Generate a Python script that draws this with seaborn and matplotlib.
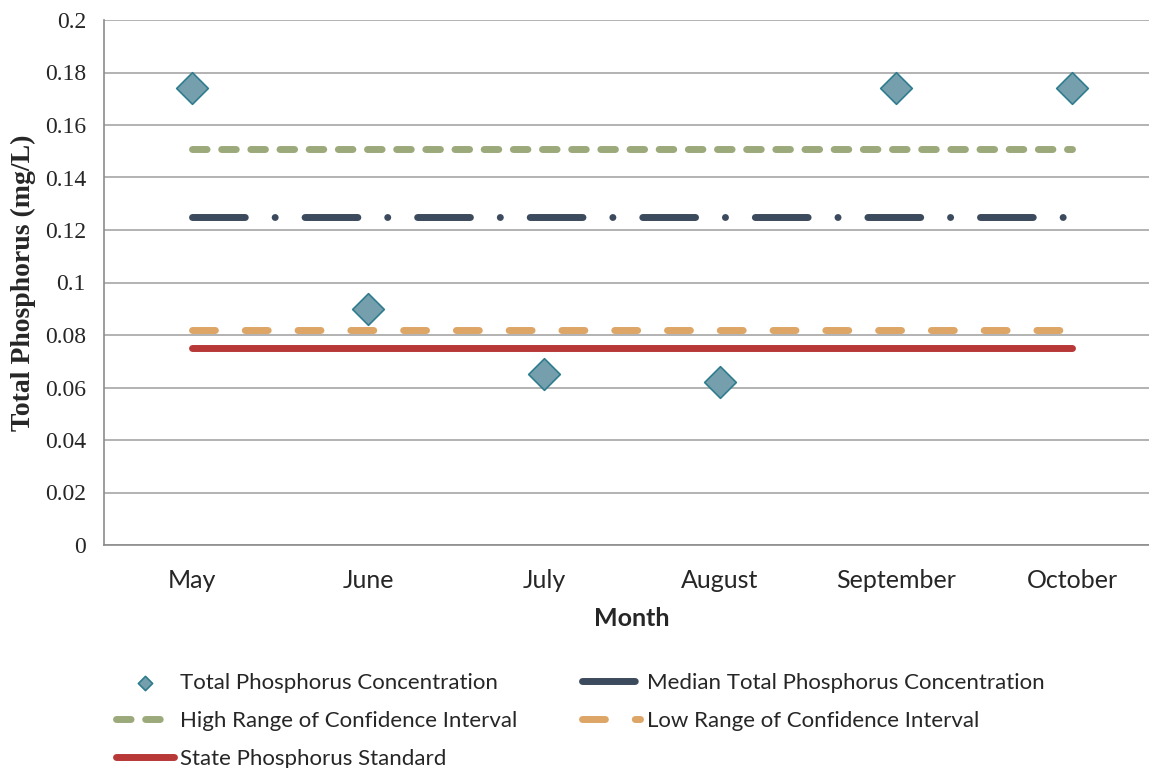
import pandas as pd
import matplotlib.pyplot as plt
import seaborn as sns
from matplotlib.ticker import FixedLocator

# Monthly data
months = ['May', 'June', 'July', 'August', 'September', 'October']
tp_conc = [0.174, 0.090, 0.065, 0.062, 0.174, 0.174]
median_tp = [0.125, 0.125, 0.125, 0.125, 0.125, 0.125]
high_ci = [0.151, 0.151, 0.151, 0.151, 0.151, 0.151]
low_ci = [0.082, 0.082, 0.082, 0.082, 0.082, 0.082]
state_std = [0.075, 0.075, 0.075, 0.075, 0.075, 0.075]
yticks = [0, 0.02, 0.04, 0.06, 0.08, 0.1, 0.12, 0.14, 0.16, 0.18, 0.2]
ytick_labels = ['0', '0.02', '0.04', '0.06', '0.08', '0.1', '0.12', '0.14',
                '0.16', '0.18', '0.2']

df = pd.DataFrame({'pos': range(len(months)), 'Month': months, 'tp': tp_conc,
                   'median': median_tp, 'high': high_ci, 'low': low_ci, 'std': state_std})

sns.set_style('white')
plt.rcParams['font.family'] = ['Lato', 'DejaVu Sans']

fig = plt.figure(figsize=(11.49, 7.68), dpi=100)
ax = fig.add_axes([104 / 1149, 223 / 768, 1056 / 1149, 525 / 768])

lw = 5
# State standard (solid red)
sns.lineplot(data=df, x='pos', y='std', color='#B83838', lw=lw, ax=ax,
             label='State Phosphorus Standard')
# Low CI (orange dashed)
sns.lineplot(data=df, x='pos', y='low', color='#DDA566', lw=lw, ax=ax,
             label='Low Range of Confidence Interval')
# High CI (green dashed)
sns.lineplot(data=df, x='pos', y='high', color='#9CA97B', lw=lw, ax=ax,
             label='High Range of Confidence Interval')
# Median (dash-dot)
sns.lineplot(data=df, x='pos', y='median', color='#3B4A5C', lw=lw, ax=ax,
             label='Median Total Phosphorus Concentration')

l_std, l_low, l_high, l_med = ax.lines[:4]
l_low.set_dashes((3.3, 4.3))
l_high.set_dashes((2.1, 2.1))
l_med.set_dashes((7.6, 4.3, 0.01, 4.3))
for ln in ax.lines[:4]:
    ln.set_dash_capstyle('round')
    ln.set_solid_capstyle('round')

sns.scatterplot(data=df, x='pos', y='tp', marker='D', s=260, color='#769FAD',
                edgecolor='#2E7C8E', linewidth=1.2, ax=ax, zorder=5,
                label='Total Phosphorus Concentration')

ax.set_xlim(-0.5, len(months) - 0.5)
ax.set_ylim(0, 0.2)
ax.set_yticks(yticks)
ax.set_yticklabels(ytick_labels, family='Liberation Serif', fontsize=17)
ax.set_xticks(range(len(months)))
ax.set_xticklabels(months, fontsize=18)
ax.xaxis.set_minor_locator(FixedLocator([i - 0.5 for i in range(len(months))]))
ax.tick_params(axis='x', which='major', length=0, pad=17)
ax.tick_params(axis='x', which='minor', length=6, color='#8C8C8C', width=1, direction='out')
ax.tick_params(axis='y', length=7, color='#8C8C8C', width=1, direction='out', pad=6)

ax.grid(axis='y', color='#A6A6A6', lw=1.2)
ax.set_axisbelow(True)
for s in ['top', 'right']:
    ax.spines[s].set_visible(False)
for s in ['left', 'bottom']:
    ax.spines[s].set_color('#8C8C8C')
    ax.spines[s].set_linewidth(1.2)

ax.set_xlabel('Month', fontsize=18, fontweight='bold', labelpad=11)
ax.set_ylabel('Total Phosphorus (mg/L)', fontsize=20, fontweight='bold',
              family='Liberation Serif', labelpad=6)

handles, labels = ax.get_legend_handles_labels()
lab_h = dict(zip(labels, handles))
order = ['Total Phosphorus Concentration', 'High Range of Confidence Interval',
         'State Phosphorus Standard', 'Median Total Phosphorus Concentration',
         'Low Range of Confidence Interval']
ax.legend_.remove()
fig.legend([lab_h[k] for k in order], order, loc='upper left',
           bbox_to_anchor=(96 / 1149, 1 - 653 / 768), ncol=2, frameon=False,
           fontsize=16, handlelength=2.6, handletextpad=0.3, columnspacing=2.9,
           labelspacing=0.8, markerscale=0.45)

fig.savefig('out.png', dpi=100)
